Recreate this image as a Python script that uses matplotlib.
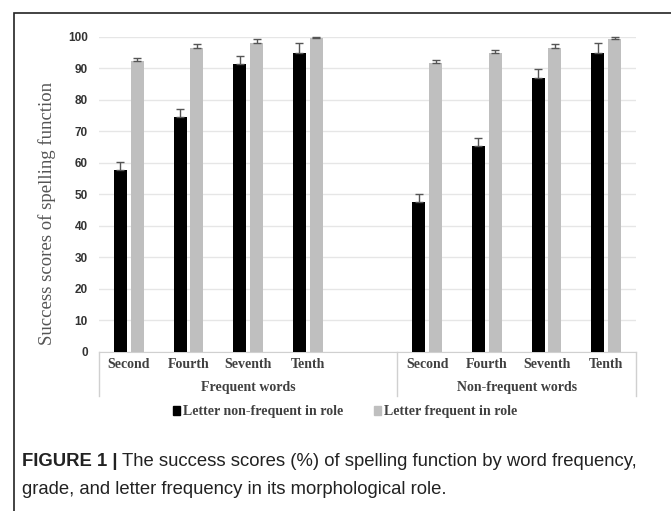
import matplotlib
matplotlib.use("Agg")
import matplotlib.pyplot as plt
import numpy as np
from matplotlib.patches import Patch, Rectangle
from matplotlib.lines import Line2D
from matplotlib import transforms

# grades for each word-frequency group
grades = ["Second", "Fourth", "Seventh", "Tenth"]
groups = ["Frequent words", "Non-frequent words"]
series = ["Letter non-frequent in role", "Letter frequent in role"]

# mean success scores (%) and upper error, Frequent words then Non-frequent words
nonfreq_letter = [57.8, 74.5, 91.3, 94.7, 47.5, 65.2, 86.8, 94.7]
nonfreq_letter_err = [2.6, 2.6, 2.6, 3.2, 2.6, 2.6, 3.1, 3.3]
freq_letter = [92.3, 96.5, 98.1, 99.7, 91.6, 94.7, 96.5, 99.3]
freq_letter_err = [1.0, 1.1, 1.1, 0.3, 1.0, 1.0, 1.1, 0.6]

yticks = [0, 10, 20, 30, 40, 50, 60, 70, 80, 90, 100]

W, H = 671, 511
fig = plt.figure(figsize=(W / 100, H / 100), dpi=100)
ax = fig.add_axes([99 / W, 1 - 352 / H, (636 - 99) / W, (352 - 36.7) / H])

# Excel-style category slots: 4 grades, one blank slot, 4 grades
pos = np.array([0, 1, 2, 3, 5, 6, 7, 8])
bw = 0.22
off = 0.14
ekw = dict(ecolor="#555555", elinewidth=1, capsize=3, capthick=1)
b1 = ax.bar(pos - off, nonfreq_letter, bw, color="black", zorder=3)
ax.errorbar(pos - off, nonfreq_letter, yerr=[np.zeros(8), nonfreq_letter_err],
            fmt="none", zorder=4, clip_on=False, **ekw)
b2 = ax.bar(pos + off, freq_letter, bw, color="#bfbfbf", zorder=3)
ax.errorbar(pos + off, freq_letter, yerr=[np.zeros(8), freq_letter_err],
            fmt="none", zorder=4, clip_on=False, **ekw)

ax.set_xlim(-0.5, 8.5)
ax.set_ylim(0, 100)
ax.set_yticks(yticks)
ax.set_yticklabels([str(t) for t in yticks], fontsize=8.5, fontweight="bold",
                   color="#333333", family="Liberation Sans")
ax.tick_params(axis="y", length=0, pad=8)
ax.set_xticks([])
ax.yaxis.grid(True, color="#e6e6e6", lw=1)
ax.set_axisbelow(True)
for s in ["top", "right", "left"]:
    ax.spines[s].set_visible(False)
ax.spines["bottom"].set_color("#d0d0d0")

fig.text(47 / W, 1 - 213 / H, "Success scores of spelling function", rotation=90,
         ha="center", va="center", family="Liberation Serif", fontsize=13.5,
         color="#555555")

# two-level category labels below the axis
tr = transforms.blended_transform_factory(ax.transData, fig.transFigure)
for i, p in enumerate(pos):
    ax.text(p, 1 - 364 / H, grades[i % 4], transform=tr, ha="center", va="center",
            family="Liberation Serif", fontweight="bold", fontsize=10, color="#404040")
ax.text(2, 1 - 387 / H, groups[0], transform=tr, ha="center", va="center",
        family="Liberation Serif", fontweight="bold", fontsize=10, color="#404040")
ax.text(6.5, 1 - 387 / H, groups[1], transform=tr, ha="center", va="center",
        family="Liberation Serif", fontweight="bold", fontsize=10, color="#404040")
for xs in [-0.5, 4.5, 8.5]:
    ax.add_line(Line2D([xs, xs], [1 - 352 / H, 1 - 396 / H], transform=tr,
                       color="#d0d0d0", lw=1, clip_on=False))

handles = [Patch(color="black"), Patch(color="#bfbfbf")]
fig.legend(handles, series, loc="center", bbox_to_anchor=(345 / W, 1 - 412 / H),
           ncol=2, frameon=False, handlelength=0.55, handleheight=0.55,
           handletextpad=0.2, columnspacing=2.2,
           prop=dict(family="Liberation Serif", weight="bold", size=10))
for t in fig.legends[0].get_texts():
    t.set_color("#404040")

# figure frame and caption
fig.add_artist(Rectangle((14 / W, -0.1), 1.2, 1 - 13 / H + 0.1, transform=fig.transFigure,
                         fill=False, ec="#222222", lw=1.2))
cap_kw = dict(family="Liberation Sans", fontsize=13.3, va="center", color="#222222")
t1 = fig.text(22 / W, 1 - 462 / H, "FIGURE 1 |", fontweight="bold", **cap_kw)
fig.canvas.draw()
bb = t1.get_window_extent()
fig.text((bb.x1 + 4) / W, 1 - 462 / H,
         "The success scores (%) of spelling function by word frequency,", **cap_kw)
fig.text(22 / W, 1 - 490 / H, "grade, and letter frequency in its morphological role.", **cap_kw)

fig.savefig("out.png", dpi=100)
